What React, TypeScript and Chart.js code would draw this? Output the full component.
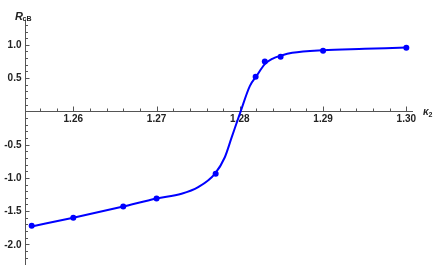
import React, { useEffect, useRef } from 'react';
import { Chart, registerables } from 'chart.js';

Chart.register(...registerables);

// Measured points
const markerX = [1.255, 1.26, 1.266, 1.27, 1.2771, 1.2819, 1.283, 1.2849, 1.29, 1.3];
const markerY = [-1.72, -1.6, -1.43, -1.31, -0.94, 0.52, 0.75, 0.82, 0.91, 0.955];

// Fitted curve
const curveX = [1.255, 1.26, 1.266, 1.27, 1.273, 1.275, 1.277, 1.2782, 1.279, 1.2801, 1.2812, 1.282, 1.283, 1.2839, 1.285, 1.2863, 1.29, 1.295, 1.3];
const curveY = [-1.73, -1.6, -1.43, -1.31, -1.24, -1.14, -0.94, -0.69, -0.4, 0, 0.38, 0.53, 0.71, 0.79, 0.84, 0.88, 0.92, 0.94, 0.96];

const xTickLabels = ['1.26', '1.27', '1.28', '1.29', '1.30'];
const yTickLabels = ['1.0', '0.5', '-0.5', '-1.0', '-1.5', '-2.0'];

const X_MIN = 1.2542;
const X_MAX = 1.3008;
const Y_MIN = -2.28;
const Y_MAX = 1.373;

const BLUE = '#0000ff';
const AXIS = '#555555';
const TEXT = '#222222';

const axesPlugin = {
  id: 'mathAxes',
  beforeDatasetsDraw(chart: any) {
    const { ctx, chartArea } = chart;
    const xs = chart.scales.x;
    const ys = chart.scales.y;
    const y0 = Math.round(ys.getPixelForValue(0)) + 0.5;
    const x0 = Math.round(chartArea.left) + 0.5;
    ctx.save();
    ctx.strokeStyle = AXIS;
    ctx.lineWidth = 1;
    // axis lines
    ctx.beginPath();
    ctx.moveTo(chartArea.left, y0);
    ctx.lineTo(chartArea.right, y0);
    ctx.moveTo(x0, chartArea.top);
    ctx.lineTo(x0, chartArea.bottom + 2);
    ctx.stroke();
    // x ticks
    ctx.beginPath();
    const kx0 = Math.ceil(X_MIN / 0.002 - 1e-6);
    const kx1 = Math.floor(X_MAX / 0.002 + 1e-6);
    for (let k = kx0; k <= kx1; k++) {
      const px = Math.round(xs.getPixelForValue(k * 0.002)) + 0.5;
      const len = k % 5 === 0 ? 5 : 3;
      ctx.moveTo(px, y0);
      ctx.lineTo(px, y0 - len);
    }
    // y ticks
    const ky0 = Math.ceil(Y_MIN / 0.1 - 1e-6);
    const ky1 = Math.floor(Y_MAX / 0.1 + 1e-6);
    for (let k = ky0; k <= ky1; k++) {
      if (k === 0) continue;
      const py = Math.round(ys.getPixelForValue(k * 0.1)) + 0.5;
      const len = k % 5 === 0 ? 4 : 2.5;
      ctx.moveTo(x0, py);
      ctx.lineTo(x0 + len, py);
    }
    ctx.stroke();

    // tick labels
    ctx.fillStyle = TEXT;
    ctx.font = 'bold 10px "Liberation Sans", Arial, sans-serif';
    ctx.textAlign = 'center';
    ctx.textBaseline = 'top';
    xTickLabels.forEach((lab) => {
      const px = xs.getPixelForValue(parseFloat(lab));
      ctx.fillText(lab, px, y0 + 3);
    });
    ctx.textAlign = 'right';
    ctx.textBaseline = 'middle';
    yTickLabels.forEach((lab) => {
      const py = ys.getPixelForValue(parseFloat(lab));
      ctx.fillText(lab, x0 - 4, py + 0.5);
    });

    // axis titles
    ctx.textAlign = 'left';
    ctx.textBaseline = 'alphabetic';
    ctx.font = 'italic bold 11px "Liberation Sans", Arial, sans-serif';
    ctx.fillText('R', 15, 19.5);
    ctx.font = 'bold 7px "Liberation Sans", Arial, sans-serif';
    ctx.fillText('cB', 22.5, 21);
    ctx.font = 'italic bold 10px "Liberation Sans", Arial, sans-serif';
    ctx.fillText('κ', chartArea.right + 10, y0 + 3);
    ctx.font = 'bold 7px "Liberation Sans", Arial, sans-serif';
    ctx.fillText('2', chartArea.right + 15.5, y0 + 5);
    ctx.restore();
  },
};

export default function App() {
  const ref = useRef<HTMLCanvasElement | null>(null);
  useEffect(() => {
    if (!ref.current) return;
    const chart = new Chart(ref.current, {
      type: 'scatter',
      data: {
        datasets: [
          {
            data: curveX.map((x, i) => ({ x, y: curveY[i] })),
            showLine: true,
            borderColor: BLUE,
            borderWidth: 2,
            pointRadius: 0,
            cubicInterpolationMode: 'monotone',
            clip: false,
          } as any,
          {
            data: markerX.map((x, i) => ({ x, y: markerY[i] })),
            showLine: false,
            pointRadius: 3,
            pointBackgroundColor: BLUE,
            pointBorderWidth: 0,
            clip: false,
          } as any,
        ],
      },
      options: {
        animation: false,
        responsive: false,
        maintainAspectRatio: false,
        layout: { padding: { left: 25, right: 23, top: 20, bottom: 2 } },
        scales: {
          x: { type: 'linear', min: X_MIN, max: X_MAX, display: false },
          y: { type: 'linear', min: Y_MIN, max: Y_MAX, display: false },
        },
        plugins: { legend: { display: false }, tooltip: { enabled: false } },
      },
      plugins: [axesPlugin],
    });
    return () => chart.destroy();
  }, []);
  return (
    <div style={{ position: 'fixed', left: 0, top: 0, width: 436, height: 267 }}>
      <canvas ref={ref} width={436} height={267} style={{ width: 436, height: 267, display: 'block' }} />
    </div>
  );
}
